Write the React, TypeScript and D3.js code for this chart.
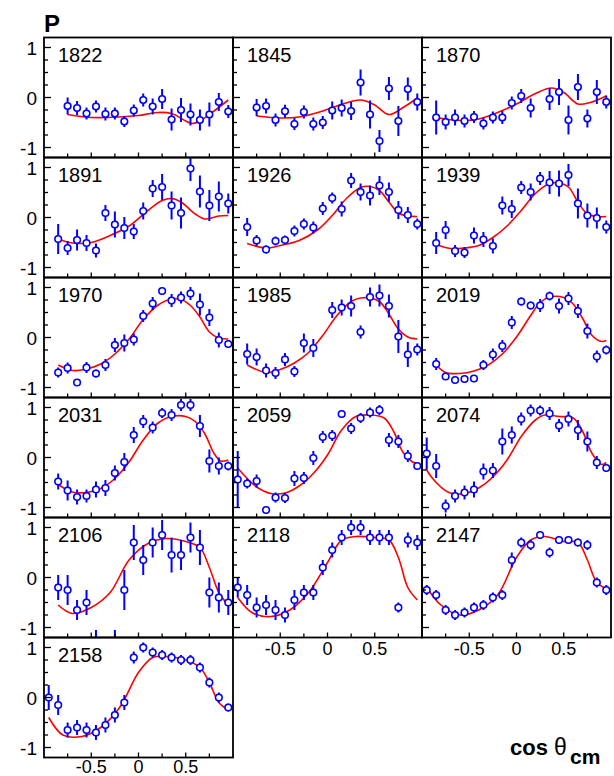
import React from "react";
import * as d3 from "d3";

const W = 614;
const H = 776;

const panelNames = ["1822", "1845", "1870", "1891", "1926", "1939", "1970", "1985", "2019", "2031", "2059", "2074", "2106", "2118", "2147", "2158"];

// ---- data points: cos(theta) values, P values, errors ----
const x1822 = [-0.75, -0.65, -0.55, -0.45, -0.35, -0.25, -0.15, -0.05, 0.05, 0.15, 0.25, 0.35, 0.45, 0.55, 0.65, 0.75, 0.85, 0.95];
const y1822 = [-0.17, -0.21, -0.32, -0.18, -0.33, -0.32, -0.48, -0.26, -0.05, -0.18, -0.03, -0.44, -0.25, -0.34, -0.45, -0.34, -0.09, -0.28];
const e1822 = [0.17, 0.14, 0.12, 0.12, 0.13, 0.12, 0.11, 0.12, 0.13, 0.16, 0.2, 0.22, 0.24, 0.22, 0.21, 0.24, 0.18, 0.13];
const fx1822 = [-0.75, -0.5, -0.2, 0, 0.2, 0.35, 0.5, 0.57, 0.65, 0.8, 0.95];
const fy1822 = [-0.34, -0.4, -0.39, -0.36, -0.3, -0.32, -0.47, -0.52, -0.47, -0.27, -0.05];

const x1845 = [-0.75, -0.65, -0.55, -0.45, -0.35, -0.25, -0.15, -0.05, 0.05, 0.15, 0.25, 0.35, 0.45, 0.55, 0.65, 0.75, 0.85, 0.95];
const y1845 = [-0.2, -0.17, -0.45, -0.275, -0.53, -0.29, -0.53, -0.5, -0.26, -0.21, -0.27, 0.3, -0.34, -0.87, 0.18, -0.47, 0.17, -0.09];
const e1845 = [0.17, 0.15, 0.13, 0.13, 0.12, 0.13, 0.13, 0.13, 0.18, 0.17, 0.18, 0.26, 0.28, 0.22, 0.23, 0.3, 0.23, 0.17];
const fx1845 = [-0.75, -0.5, -0.3, -0.1, 0.1, 0.25, 0.36, 0.5, 0.65, 0.8, 0.95];
const fy1845 = [-0.37, -0.41, -0.39, -0.3, -0.17, -0.08, -0.05, -0.15, -0.34, -0.2, -0.01];

const x1870 = [-0.85, -0.75, -0.65, -0.55, -0.45, -0.35, -0.25, -0.15, -0.05, 0.05, 0.15, 0.35, 0.45, 0.55, 0.65, 0.75, 0.85, 0.95];
const y1870 = [-0.4, -0.49, -0.4, -0.47, -0.39, -0.52, -0.4, -0.4, -0.11, 0.03, -0.21, -0.03, 0.11, -0.45, 0.21, -0.42, 0.11, -0.09];
const e1870 = [0.34, 0.15, 0.16, 0.13, 0.12, 0.12, 0.12, 0.13, 0.13, 0.14, 0.19, 0.22, 0.26, 0.29, 0.26, 0.18, 0.24, 0.13];
const fx1870 = [-0.85, -0.6, -0.4, -0.2, 0, 0.2, 0.37, 0.5, 0.65, 0.78, 0.95];
const fy1870 = [-0.4, -0.46, -0.43, -0.3, -0.13, 0.08, 0.19, 0.1, -0.13, -0.1, 0.03];

const x1891 = [-0.85, -0.75, -0.65, -0.55, -0.45, -0.35, -0.25, -0.15, -0.05, 0.05, 0.15, 0.25, 0.35, 0.45, 0.55, 0.65, 0.75, 0.85, 0.95];
const y1891 = [-0.43, -0.61, -0.45, -0.51, -0.66, 0.09, -0.14, -0.21, -0.28, 0.13, 0.58, 0.61, 0.24, 0.09, 0.98, 0.52, 0.24, 0.42, 0.28];
const e1891 = [0.3, 0.14, 0.21, 0.16, 0.14, 0.16, 0.26, 0.22, 0.15, 0.17, 0.17, 0.26, 0.28, 0.31, 0.25, 0.32, 0.31, 0.3, 0.2];
const fx1891 = [-0.85, -0.7, -0.5, -0.3, -0.1, 0.1, 0.25, 0.35, 0.45, 0.6, 0.7, 0.85, 0.95];
const fy1891 = [-0.43, -0.51, -0.5, -0.36, -0.17, 0.14, 0.34, 0.38, 0.31, 0.07, -0.03, 0.03, 0.04];

const x1926 = [-0.85, -0.75, -0.65, -0.55, -0.45, -0.35, -0.25, -0.15, -0.05, 0.05, 0.15, 0.25, 0.35, 0.45, 0.55, 0.65, 0.75, 0.85, 0.95];
const y1926 = [-0.19, -0.46, -0.64, -0.47, -0.45, -0.27, -0.13, -0.2, 0.18, 0.39, 0.17, 0.74, 0.51, 0.44, 0.64, 0.51, 0.15, 0.05, -0.13];
const e1926 = [0.18, 0.11, 0.08, 0.09, 0.09, 0.11, 0.11, 0.12, 0.13, 0.11, 0.15, 0.15, 0.17, 0.2, 0.19, 0.19, 0.18, 0.16, 0.11];
const fx1926 = [-0.85, -0.65, -0.5, -0.3, -0.1, 0.05, 0.2, 0.35, 0.45, 0.55, 0.65, 0.75, 0.85, 0.95];
const fy1926 = [-0.52, -0.61, -0.56, -0.46, -0.24, 0.04, 0.38, 0.6, 0.62, 0.54, 0.31, 0.09, 0.03, 0.02];

const x1939 = [-0.85, -0.75, -0.65, -0.55, -0.45, -0.35, -0.25, -0.15, -0.05, 0.05, 0.15, 0.25, 0.35, 0.45, 0.55, 0.65, 0.75, 0.85, 0.95];
const y1939 = [-0.51, -0.25, -0.67, -0.7, -0.36, -0.44, -0.57, 0.24, 0.17, 0.6, 0.51, 0.78, 0.7, 0.68, 0.85, 0.28, 0.04, -0.01, -0.19];
const e1939 = [0.22, 0.18, 0.12, 0.11, 0.16, 0.15, 0.15, 0.18, 0.18, 0.13, 0.17, 0.13, 0.23, 0.26, 0.22, 0.3, 0.24, 0.21, 0.13];
const fx1939 = [-0.85, -0.7, -0.55, -0.4, -0.25, -0.1, 0.05, 0.2, 0.35, 0.45, 0.55, 0.65, 0.75, 0.85, 0.95];
const fy1939 = [-0.54, -0.62, -0.61, -0.56, -0.4, -0.17, 0.14, 0.48, 0.68, 0.69, 0.61, 0.31, 0.07, 0.02, 0.02];

const x1970 = [-0.85, -0.75, -0.65, -0.55, -0.45, -0.35, -0.25, -0.15, -0.05, 0.05, 0.15, 0.25, 0.35, 0.45, 0.55, 0.65, 0.75, 0.85, 0.95];
const y1970 = [-0.7, -0.61, -0.9, -0.6, -0.72, -0.55, -0.15, -0.11, -0.04, 0.43, 0.68, 0.93, 0.74, 0.8, 0.88, 0.66, 0.4, -0.05, -0.13];
const e1970 = [0.1, 0.11, 0.07, 0.11, 0.08, 0.12, 0.14, 0.17, 0.12, 0.12, 0.13, 0.08, 0.13, 0.12, 0.13, 0.22, 0.17, 0.15, 0.08];
const fx1970 = [-0.85, -0.7, -0.55, -0.4, -0.25, -0.1, 0.05, 0.2, 0.35, 0.45, 0.55, 0.65, 0.75, 0.85, 0.95];
const fy1970 = [-0.55, -0.66, -0.63, -0.53, -0.33, -0.03, 0.36, 0.64, 0.77, 0.76, 0.64, 0.41, 0.11, -0.01, -0.03];

const x1985 = [-0.85, -0.75, -0.65, -0.55, -0.45, -0.35, -0.25, -0.15, 0.05, 0.15, 0.25, 0.35, 0.45, 0.55, 0.65, 0.75, 0.85, 0.95];
const y1985 = [-0.33, -0.39, -0.66, -0.71, -0.44, -0.68, -0.11, -0.21, 0.55, 0.6, 0.63, 0.11, 0.81, 0.84, 0.63, 0.02, -0.34, -0.24];
const e1985 = [0.21, 0.17, 0.14, 0.12, 0.13, 0.11, 0.19, 0.18, 0.16, 0.16, 0.21, 0.13, 0.19, 0.22, 0.23, 0.33, 0.25, 0.12];
const fx1985 = [-0.85, -0.65, -0.5, -0.35, -0.2, -0.05, 0.1, 0.25, 0.35, 0.45, 0.55, 0.65, 0.75, 0.85, 0.95];
const fy1985 = [-0.55, -0.7, -0.64, -0.51, -0.3, 0.04, 0.44, 0.72, 0.79, 0.79, 0.72, 0.47, 0.17, 0.01, -0.03];

const x2019 = [-0.85, -0.75, -0.65, -0.55, -0.45, -0.35, -0.25, -0.15, -0.05, 0.05, 0.15, 0.25, 0.35, 0.45, 0.55, 0.65, 0.75, 0.85, 0.95];
const y2019 = [-0.53, -0.78, -0.85, -0.83, -0.82, -0.55, -0.34, -0.17, 0.3, 0.72, 0.64, 0.64, 0.83, 0.63, 0.78, 0.53, 0.13, -0.38, -0.25];
const e2019 = [0.12, 0.07, 0.07, 0.07, 0.07, 0.1, 0.12, 0.12, 0.13, 0.08, 0.08, 0.13, 0.09, 0.15, 0.13, 0.14, 0.15, 0.12, 0.09];
const fx2019 = [-0.85, -0.75, -0.6, -0.45, -0.3, -0.15, 0, 0.15, 0.25, 0.35, 0.5, 0.6, 0.7, 0.8, 0.9, 0.95];
const fy2019 = [-0.55, -0.7, -0.72, -0.67, -0.55, -0.33, 0.01, 0.44, 0.7, 0.81, 0.8, 0.67, 0.38, 0.04, -0.08, -0.06];

const x2031 = [-0.85, -0.75, -0.65, -0.55, -0.45, -0.35, -0.25, -0.15, -0.05, 0.05, 0.15, 0.25, 0.35, 0.45, 0.55, 0.65, 0.75, 0.85, 0.95];
const y2031 = [-0.48, -0.66, -0.79, -0.77, -0.64, -0.61, -0.31, -0.09, 0.45, 0.72, 0.6, 0.89, 0.85, 1.05, 1.05, 0.63, -0.07, -0.17, -0.17];
const e2031 = [0.16, 0.2, 0.15, 0.13, 0.16, 0.16, 0.15, 0.18, 0.16, 0.13, 0.12, 0.1, 0.12, 0.12, 0.12, 0.22, 0.23, 0.17, 0.09];
const fx2031 = [-0.85, -0.7, -0.55, -0.4, -0.25, -0.1, 0.05, 0.2, 0.35, 0.5, 0.6, 0.7, 0.8, 0.87, 0.95];
const fy2031 = [-0.54, -0.69, -0.7, -0.62, -0.42, -0.09, 0.35, 0.68, 0.82, 0.82, 0.72, 0.48, 0.08, -0.07, -0.05];

const x2059 = [-0.95, -0.85, -0.75, -0.65, -0.55, -0.45, -0.35, -0.25, -0.15, -0.05, 0.05, 0.15, 0.25, 0.35, 0.45, 0.55, 0.65, 0.75, 0.85, 0.95];
const y2059 = [-0.44, -0.52, -0.47, -1.05, -0.8, -0.81, -0.42, -0.41, -0.01, 0.41, 0.44, 0.87, 0.58, 0.79, 0.9, 0.95, 0.35, 0.32, 0.03, -0.17];
const e2059 = [0.57, 0.1, 0.13, 0.07, 0.1, 0.1, 0.15, 0.12, 0.14, 0.12, 0.11, 0.08, 0.11, 0.1, 0.1, 0.1, 0.14, 0.13, 0.12, 0.07];
const fx2059 = [-0.95, -0.85, -0.75, -0.6, -0.45, -0.3, -0.15, 0, 0.15, 0.3, 0.45, 0.6, 0.7, 0.8, 0.9, 0.95];
const fy2059 = [-0.21, -0.42, -0.59, -0.72, -0.71, -0.57, -0.32, 0.05, 0.55, 0.82, 0.85, 0.79, 0.52, 0.1, -0.09, -0.12];

const x2074 = [-0.95, -0.85, -0.75, -0.65, -0.55, -0.45, -0.35, -0.25, -0.15, -0.05, 0.05, 0.15, 0.25, 0.35, 0.45, 0.55, 0.65, 0.75, 0.85, 0.95];
const y2074 = [0.08, -0.17, -0.97, -0.77, -0.7, -0.64, -0.28, -0.26, 0.32, 0.45, 0.77, 0.94, 0.94, 0.88, 0.64, 0.77, 0.55, 0.32, -0.1, -0.21];
const e2074 = [0.32, 0.24, 0.13, 0.13, 0.14, 0.16, 0.16, 0.15, 0.26, 0.17, 0.13, 0.12, 0.1, 0.13, 0.13, 0.15, 0.2, 0.2, 0.13, 0.08];
const fx2074 = [-0.96, -0.9, -0.8, -0.7, -0.55, -0.4, -0.25, -0.1, 0.05, 0.2, 0.3, 0.45, 0.6, 0.7, 0.8, 0.9, 0.95];
const fy2074 = [-0.22, -0.39, -0.59, -0.71, -0.72, -0.61, -0.39, -0.05, 0.42, 0.75, 0.85, 0.82, 0.79, 0.52, 0.08, -0.14, -0.1];

const x2106 = [-0.85, -0.75, -0.65, -0.55, -0.45, -0.25, -0.15, -0.05, 0.05, 0.15, 0.25, 0.35, 0.45, 0.55, 0.65, 0.75, 0.85, 0.95];
const y2106 = [-0.2, -0.25, -0.65, -0.5, -1.35, -1.35, -0.25, 0.7, 0.35, 0.7, 0.85, 0.45, 0.45, 0.8, 0.6, -0.3, -0.4, -0.5];
const e2106 = [0.25, 0.3, 0.2, 0.25, 0.3, 0.3, 0.4, 0.35, 0.3, 0.3, 0.3, 0.35, 0.3, 0.3, 0.35, 0.3, 0.3, 0.25];
const fx2106 = [-0.85, -0.7, -0.5, -0.3, -0.1, 0.1, 0.3, 0.5, 0.65, 0.75, 0.85, 0.95];
const fy2106 = [-0.55, -0.72, -0.6, -0.3, 0.35, 0.68, 0.78, 0.72, 0.6, 0.2, -0.3, -0.55];

const x2118 = [-0.95, -0.85, -0.75, -0.65, -0.55, -0.45, -0.35, -0.25, -0.15, -0.05, 0.05, 0.15, 0.25, 0.35, 0.45, 0.55, 0.65, 0.75, 0.85, 0.95];
const y2118 = [-0.2, -0.35, -0.6, -0.55, -0.65, -0.75, -0.45, -0.3, -0.3, 0.2, 0.55, 0.8, 1.0, 1.0, 0.8, 0.8, 0.8, -0.6, 0.75, 0.7];
const e2118 = [0.2, 0.2, 0.2, 0.2, 0.2, 0.15, 0.2, 0.15, 0.15, 0.15, 0.15, 0.15, 0.15, 0.15, 0.15, 0.15, 0.15, 0.1, 0.15, 0.15];
const fx2118 = [-0.95, -0.8, -0.6, -0.4, -0.2, 0, 0.15, 0.3, 0.5, 0.65, 0.75, 0.85, 0.95];
const fy2118 = [-0.4, -0.7, -0.78, -0.65, -0.3, 0.3, 0.75, 0.82, 0.8, 0.75, 0.4, -0.2, -0.45];

const x2147 = [-0.95, -0.85, -0.75, -0.65, -0.55, -0.45, -0.35, -0.25, -0.15, -0.05, 0.05, 0.15, 0.25, 0.35, 0.45, 0.55, 0.65, 0.75, 0.85, 0.95];
const y2147 = [-0.25, -0.35, -0.65, -0.75, -0.7, -0.6, -0.55, -0.4, -0.35, 0.35, 0.7, 0.65, 0.85, 0.5, 0.75, 0.75, 0.7, 0.65, -0.1, -0.25];
const e2147 = [0.1, 0.1, 0.1, 0.1, 0.1, 0.1, 0.1, 0.1, 0.1, 0.15, 0.1, 0.1, 0.08, 0.1, 0.08, 0.08, 0.08, 0.1, 0.1, 0.1];
const fx2147 = [-0.95, -0.8, -0.6, -0.4, -0.2, 0, 0.15, 0.3, 0.5, 0.65, 0.75, 0.85, 0.95];
const fy2147 = [-0.2, -0.55, -0.75, -0.65, -0.35, 0.4, 0.75, 0.82, 0.72, 0.7, 0.35, -0.1, -0.22];

const x2158 = [-0.95, -0.85, -0.75, -0.65, -0.55, -0.45, -0.35, -0.25, -0.15, -0.05, 0.05, 0.15, 0.25, 0.35, 0.45, 0.55, 0.65, 0.75, 0.85, 0.95];
const y2158 = [0.0, -0.15, -0.65, -0.6, -0.65, -0.7, -0.55, -0.35, -0.1, 0.8, 1.0, 0.9, 0.85, 0.8, 0.75, 0.75, 0.6, 0.3, 0.0, -0.2];
const e2158 = [0.25, 0.2, 0.15, 0.15, 0.15, 0.15, 0.15, 0.15, 0.15, 0.12, 0.1, 0.1, 0.1, 0.1, 0.1, 0.1, 0.1, 0.1, 0.1, 0.08];
const fx2158 = [-0.95, -0.8, -0.6, -0.4, -0.2, 0, 0.15, 0.3, 0.5, 0.65, 0.75, 0.85, 0.95];
const fy2158 = [-0.4, -0.75, -0.78, -0.6, -0.2, 0.5, 0.8, 0.82, 0.75, 0.6, 0.3, -0.1, -0.25];

const dataX = [x1822, x1845, x1870, x1891, x1926, x1939, x1970, x1985, x2019, x2031, x2059, x2074, x2106, x2118, x2147, x2158];
const dataY = [y1822, y1845, y1870, y1891, y1926, y1939, y1970, y1985, y2019, y2031, y2059, y2074, y2106, y2118, y2147, y2158];
const dataE = [e1822, e1845, e1870, e1891, e1926, e1939, e1970, e1985, e2019, e2031, e2059, e2074, e2106, e2118, e2147, e2158];
const fitX = [fx1822, fx1845, fx1870, fx1891, fx1926, fx1939, fx1970, fx1985, fx2019, fx2031, fx2059, fx2074, fx2106, fx2118, fx2147, fx2158];
const fitY = [fy1822, fy1845, fy1870, fy1891, fy1926, fy1939, fy1970, fy1985, fy2019, fy2031, fy2059, fy2074, fy2106, fy2118, fy2147, fy2158];

const xTicks = [-0.75, -0.5, -0.25, 0, 0.25, 0.5, 0.75];
const xTickLabels = [-0.5, 0, 0.5];
const yTicks = [-1, -0.75, -0.5, -0.25, 0, 0.25, 0.5, 0.75, 1];
const yTickLabels = [-1, 0, 1];

const LEFT = 44;
const TOP = 37.5;
const PW = 189;
const PH = 120;
const FONT = "'Liberation Sans', Arial, Helvetica, sans-serif";
const BLUE = "#0000ff";
const RED = "#ff0000";

function fmt(v: number) {
  return v === 0 ? "0" : String(v);
}

function Panel({ idx }: { idx: number }) {
  const col = idx % 3;
  const row = Math.floor(idx / 3);
  const x0 = LEFT + col * PW;
  const y0 = TOP + row * PH;
  const xs = d3.scaleLinear().domain([-1, 1]).range([x0, x0 + PW]);
  const ys = d3.scaleLinear().domain([-1.2, 1.2]).range([y0 + PH, y0]);
  const clipId = `clip${idx}`;
  const line = d3
    .line<number>()
    .x((_, i) => xs(fitX[idx][i]))
    .y((d) => ys(d))
    .curve(d3.curveCatmullRom.alpha(0.5));
  const showXLabels = row === 5 || (row === 4 && col > 0);
  const r = 3.3;
  return (
    <g>
      <defs>
        <clipPath id={clipId}>
          <rect x={x0} y={y0} width={PW} height={PH} />
        </clipPath>
      </defs>
      <g clipPath={`url(#${clipId})`}>
        <path d={line(fitY[idx]) || ""} fill="none" stroke={RED} strokeWidth={1.6} />
        {dataX[idx].map((xv, i) => {
          const cx = xs(xv);
          const cy = ys(dataY[idx][i]);
          const top = ys(dataY[idx][i] + dataE[idx][i]);
          const bot = ys(dataY[idx][i] - dataE[idx][i]);
          return (
            <g key={i}>
              {top < cy - r && <line x1={cx} x2={cx} y1={top} y2={cy - r} stroke={BLUE} strokeWidth={2} />}
              {bot > cy + r && <line x1={cx} x2={cx} y1={cy + r} y2={bot} stroke={BLUE} strokeWidth={2} />}
              <circle cx={cx} cy={cy} r={r} fill="white" stroke={BLUE} strokeWidth={1.6} />
            </g>
          );
        })}
      </g>
      {yTicks.map((t) => (
        <line key={`yt${t}`} x1={x0} x2={x0 + (t % 1 === 0 ? 7 : 4)} y1={ys(t)} y2={ys(t)} stroke="black" strokeWidth={1.3} />
      ))}
      {xTicks.map((t) => (
        <line key={`xt${t}`} x1={xs(t)} x2={xs(t)} y1={y0 + PH} y2={y0 + PH - (t % 0.5 === 0 ? 5 : 4)} stroke="black" strokeWidth={1.3} />
      ))}
      <rect x={x0} y={y0} width={PW} height={PH} fill="none" stroke="black" strokeWidth={1.8} />
      <text x={x0 + 14} y={y0 + 24} fontFamily={FONT} fontSize={20} fill="black">
        {panelNames[idx]}
      </text>
      {col === 0 &&
        yTickLabels.map((t) => (
          <text key={`yl${t}`} x={x0 - 7} y={ys(t) + 7} textAnchor="end" fontFamily={FONT} fontSize={19} fill="black">
            {fmt(t)}
          </text>
        ))}
      {showXLabels &&
        xTickLabels.map((t) => (
          <text key={`xl${t}`} x={xs(t)} y={y0 + PH + (row === 5 ? 15.5 : 17.5)} textAnchor="middle" fontFamily={FONT} fontSize={18} fill="black">
            {fmt(t)}
          </text>
        ))}
    </g>
  );
}

export default function App() {
  return (
    <svg width={W} height={H} style={{ display: "block", position: "absolute", left: 0, top: 0, background: "white" }}>
      <rect x={0} y={0} width={W} height={H} fill="white" />
      {panelNames.map((_, i) => (
        <Panel key={i} idx={i} />
      ))}
      <text x={44} y={32} fontFamily={FONT} fontSize={24} fontWeight="bold" fill="black">
        P
      </text>
      <text x={510} y={755} fontFamily={FONT} fontSize={22} fontWeight="bold" fill="black">
        cos
      </text>
      <text x={554} y={755} fontFamily={FONT} fontSize={23} fill="black">
        θ
      </text>
      <text x={570} y={764} fontFamily={FONT} fontSize={21} fontWeight="bold" fill="black">
        cm
      </text>
    </svg>
  );
}
